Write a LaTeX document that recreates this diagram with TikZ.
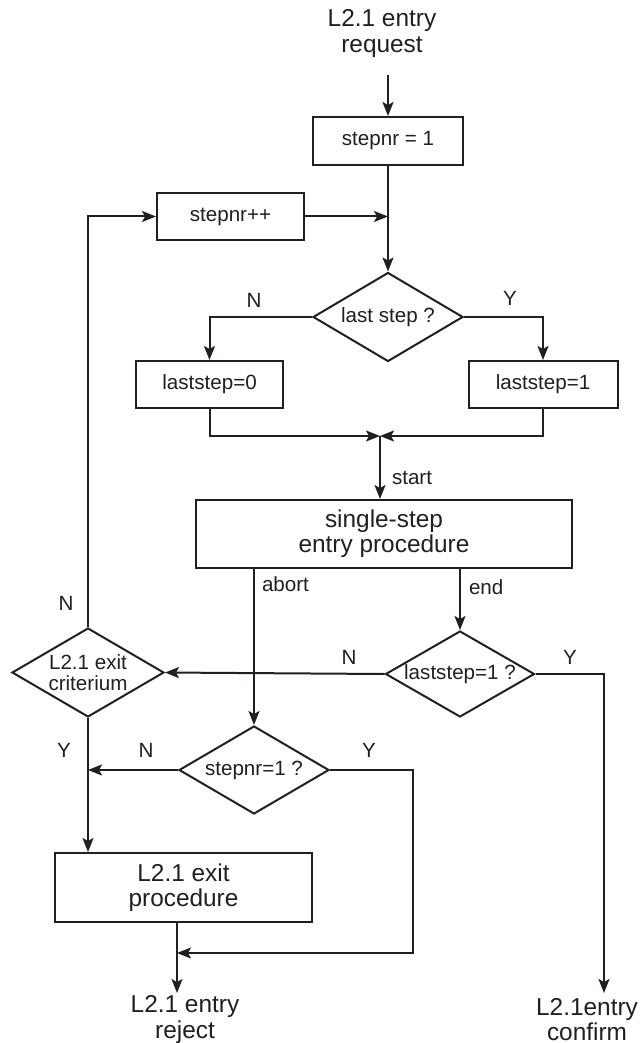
\documentclass[tikz,border=0pt]{standalone}
\usepackage{fontspec}
\setmainfont{Liberation Sans}
\usetikzlibrary{arrows.meta,shapes.geometric}
\definecolor{ink}{HTML}{231F20}
\newcommand{\fsmall}{\fontsize{10.3}{10.6}\selectfont}
\newcommand{\fbig}{\fontsize{12.2}{12.6}\selectfont}
\tikzset{
  box/.style ={draw=ink, line width=1pt, text=ink, align=center,
               inner sep=0pt, font=\fsmall},
  boxl/.style={draw=ink, line width=1pt, text=ink, align=center,
               inner sep=0pt, font=\fbig},
  dec/.style ={draw=ink, line width=1pt, text=ink, align=center,
               shape=diamond, inner sep=0pt, font=\fsmall},
  term/.style={text=ink, align=center, inner sep=0pt, font=\fbig},
  ar/.style  ={-{Stealth[length=7pt, width=5.5pt, inset=1.5pt]}, draw=ink,
               line width=1pt},
  tag/.style ={text=ink, font=\fsmall, inner sep=0pt},
  yn/.style  ={text=ink, font=\fsmall, inner sep=0pt}
}

\begin{document}
\begin{tikzpicture}[x=0.5pt, y=-0.5pt]
\path[use as bounding box, fill=white] (0,0) rectangle (640,1043);

\node[term] (req) at (382,33.5) {L2.1 entry\\request};
\node[box, minimum width=75pt, minimum height=24pt] (s1) at (388,141)
  {stepnr = 1};
\node[box, minimum width=73.5pt, minimum height=23.5pt] (inc)
  at (230.5,216.5) {stepnr++};
\node[dec, minimum width=75pt, minimum height=44.5pt, aspect=1.69] (ls)
  at (388,317) {last step ?};
\node[box, minimum width=73.5pt, minimum height=23.5pt] (lz)
  at (209.5,384.5) {laststep=0};
\node[box, minimum width=74.5pt, minimum height=23.5pt] (lo)
  at (543,384.5) {laststep=1};
\node[boxl, minimum width=188pt, minimum height=34pt] (ss) at (384,534)
  {single-step\\entry procedure};
\node[dec, minimum width=74.5pt, minimum height=43pt, aspect=1.73] (lq)
  at (460,674) {laststep=1 ?};
\node[dec, minimum width=76pt, minimum height=44.5pt, aspect=1.71,
      inner sep=-2pt] (crit) at (88,672.5) {L2.1 exit\\criterium};
\node[dec, minimum width=75pt, minimum height=44pt, aspect=1.7] (sn)
  at (254,770) {stepnr=1 ?};
\node[boxl, minimum width=128.5pt, minimum height=34.5pt] (ep)
  at (183.5,887.5) {L2.1 exit\\procedure};
\node[term] (rj) at (185,1019.5) {L2.1 entry\\reject};
\node[term] (cf) at (587,1019.5) {L2.1entry\\confirm};

\coordinate (rqin) at (388,75);
\coordinate (mrg)  at (380,436);
\coordinate (jn)   at (177,953);
\coordinate (rjin) at (177,993);
\coordinate (cfin) at (604,993);

\draw[ar] (rqin) -- (s1.north);
\draw[ar] (s1.south) -- (ls.north);
\draw[ar] (inc.east) -- (inc.east -| s1.south);
\draw[ar] (crit.north) |- (inc.west);
\draw[ar] (ls.west) -| (lz.north);
\draw[ar] (ls.east) -| (lo.north);
\draw[ar] (lz.south) |- (mrg);
\draw[ar] (lo.south) |- (mrg);
\draw[ar] (mrg) -- (mrg |- ss.north) node[tag, pos=0.67, right=5.5pt] {start};
\draw[ar] (ss.south -| sn.north) -- (sn.north)
  node[tag, pos=0.095, right=3.5pt] {abort};
\draw[ar] (ss.south -| lq.north) -- (lq.north)
  node[tag, pos=0.3, right=4pt] {end};
\draw[ar] (lq.west) -- (crit.east);
\draw[ar] (lq.east) -| (cfin);
\draw[ar] (crit.south) -- (crit.south |- ep.north);
\draw[ar] (sn.west) -- (sn.west -| crit.south);
\draw[ar] (sn.east) -- ++(83,0) |- (jn);
\draw[ar] (ep.south -| rjin) -- (rjin);

\foreach \p/\t [count=\i] in {{254,300}/N, {510,298}/Y, {66,603}/N,
    {349,657}/N, {570,657}/Y, {64,750}/Y, {146,750}/N, {369,750}/Y}
  \node[yn] (lab\i) at (\p) {\t};
\end{tikzpicture}
\end{document}
